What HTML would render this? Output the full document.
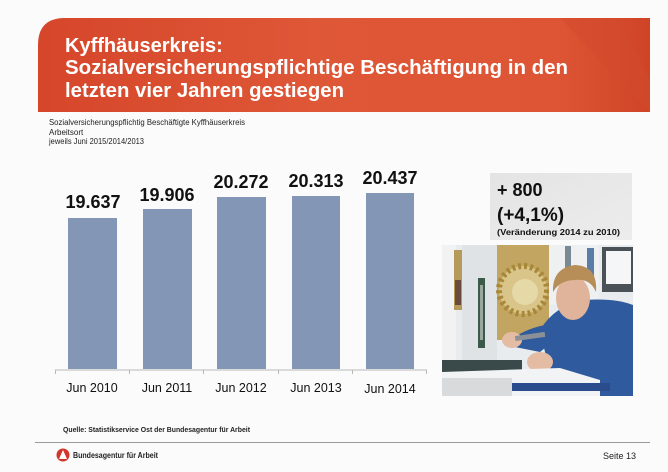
<!DOCTYPE html>
<html><head><meta charset="utf-8"><style>
html,body{margin:0;padding:0;background:#fbfbfb;}
svg{display:block;font-family:"Liberation Sans",Arial,sans-serif;}
</style></head><body>
<svg width="668" height="472" viewBox="0 0 668 472" xmlns="http://www.w3.org/2000/svg">
<defs>
<linearGradient id="ban" x1="0" y1="0" x2="1" y2="0">
<stop offset="0" stop-color="#d6462a"/>
<stop offset="0.45" stop-color="#de5737"/>
<stop offset="0.85" stop-color="#dd5535"/>
<stop offset="1" stop-color="#cf4426"/>
</linearGradient>
<linearGradient id="gbox" x1="0" y1="0" x2="1" y2="1">
<stop offset="0" stop-color="#e4e4e4"/>
<stop offset="1" stop-color="#ececec"/>
</linearGradient>
<clipPath id="ph"><rect x="442" y="245" width="191" height="151"/></clipPath>
</defs>
<rect width="668" height="472" fill="#fbfbfb"/>
<!-- banner -->
<path d="M38,112 L38,45 Q38,18 65,18 L650,18 L650,112 Z" fill="url(#ban)"/>
<path d="M560,18 L620,18 L650,80 L650,112 Z" fill="#d24a2c" opacity="0.5"/>
<g fill="#ffffff" font-weight="bold" font-size="20">
<text x="65" y="52">Kyffhäuserkreis:</text>
<text x="65" y="74" textLength="503" lengthAdjust="spacingAndGlyphs">Sozialversicherungspflichtige Beschäftigung in den</text>
<text x="65" y="97" textLength="279" lengthAdjust="spacingAndGlyphs">letzten vier Jahren gestiegen</text>
</g>
<g fill="#222" font-size="8">
<text x="49" y="125" textLength="196" lengthAdjust="spacingAndGlyphs">Sozialversicherungspflichtig Beschäftigte Kyffhäuserkreis</text>
<text x="49" y="135">Arbeitsort</text>
<text x="49" y="144" textLength="95" lengthAdjust="spacingAndGlyphs">jeweils Juni 2015/2014/2013</text>
</g>
<!-- bars -->
<g fill="#8396b6">
<rect x="68" y="218" width="49" height="151"/>
<rect x="143" y="209" width="49" height="160"/>
<rect x="217" y="197" width="49" height="172"/>
<rect x="292" y="196" width="48" height="173"/>
<rect x="366" y="193" width="48" height="176"/>
</g>
<g stroke="#b8b8b8" stroke-width="1">
<line x1="55" y1="370" x2="427" y2="370"/>
<line x1="55.5" y1="370" x2="55.5" y2="374"/>
<line x1="129.5" y1="370" x2="129.5" y2="374"/>
<line x1="203.5" y1="370" x2="203.5" y2="374"/>
<line x1="278.5" y1="370" x2="278.5" y2="374"/>
<line x1="352.5" y1="370" x2="352.5" y2="374"/>
<line x1="426.5" y1="370" x2="426.5" y2="374"/>
</g>
<g fill="#111" font-weight="bold" font-size="18" text-anchor="middle">
<text x="93" y="208">19.637</text>
<text x="167" y="201">19.906</text>
<text x="241" y="188">20.272</text>
<text x="316" y="187">20.313</text>
<text x="390" y="184">20.437</text>
</g>
<g fill="#111" font-size="12.5" text-anchor="middle">
<text x="92" y="392">Jun 2010</text>
<text x="167" y="392">Jun 2011</text>
<text x="241" y="392">Jun 2012</text>
<text x="316" y="392">Jun 2013</text>
<text x="390" y="393">Jun 2014</text>
</g>
<!-- gray box -->
<rect x="490" y="173" width="142" height="67" fill="url(#gbox)"/>
<g fill="#111" font-weight="bold">
<text x="497" y="196" font-size="18">+ 800</text>
<text x="497" y="221" font-size="19">(+4,1%)</text>
<text x="497" y="235" font-size="8.5" textLength="123" lengthAdjust="spacingAndGlyphs">(Veränderung 2014 zu 2010)</text>
</g>
<!-- photo -->
<g clip-path="url(#ph)">
<rect x="442" y="245" width="191" height="151" fill="#e9ecee"/>
<rect x="442" y="245" width="14" height="151" fill="#f2f2f2"/>
<rect x="454" y="250" width="8" height="60" fill="#b59a5a"/>
<rect x="455" y="280" width="6" height="25" fill="#6a4a3a"/>
<rect x="462" y="245" width="35" height="120" fill="#dfe3e6"/>
<rect x="478" y="278" width="7" height="70" fill="#3c5a4a"/>
<rect x="480" y="285" width="3" height="55" fill="#9aa8a0"/>
<rect x="497" y="245" width="52" height="95" fill="#c2a560"/>
<circle cx="523" cy="290" r="24" fill="#d9c48a"/>
<circle cx="523" cy="290" r="24" fill="none" stroke="#a88838" stroke-width="6" stroke-dasharray="3 3"/>
<circle cx="525" cy="292" r="13" fill="#e6d9a8"/>
<rect x="549" y="245" width="50" height="60" fill="#eef0f2"/>
<rect x="565" y="246" width="6" height="22" fill="#7a8a95"/>
<rect x="587" y="248" width="7" height="30" fill="#5a7da8"/>
<rect x="602" y="247" width="31" height="45" fill="#4a5258"/>
<rect x="606" y="251" width="25" height="33" fill="#f4f6f7"/>
<!-- worker -->
<path d="M540,330 Q555,305 585,300 Q615,298 633,305 L633,396 L555,396 Z" fill="#2f5a9e"/>
<path d="M505,345 Q520,330 545,325 L565,332 L540,352 Z" fill="#2f5a9e"/>
<ellipse cx="573" cy="298" rx="17" ry="22" fill="#e0b49a"/>
<path d="M553,292 Q552,268 575,265 Q598,266 596,292 Q590,278 575,280 Q560,280 553,292 Z" fill="#b88e58"/>
<ellipse cx="512" cy="340" rx="10" ry="8" fill="#e4bca4"/>
<ellipse cx="540" cy="362" rx="13" ry="10" fill="#e4bca4"/>
<rect x="515" y="334" width="30" height="5" fill="#8a9096" transform="rotate(-8 530 336)"/>
<!-- table & paper -->
<rect x="442" y="360" width="80" height="36" fill="#3a4a4a"/>
<path d="M442,372 L560,368 L600,380 L600,396 L442,396 Z" fill="#f2f3f5"/>
<rect x="510" y="383" width="100" height="8" fill="#2a4c8c"/>
<rect x="442" y="378" width="70" height="18" fill="#d8dadc"/>
</g>
<!-- footer -->
<text x="63" y="432" font-size="7.5" font-weight="bold" fill="#222" textLength="187" lengthAdjust="spacingAndGlyphs">Quelle: Statistikservice Ost der Bundesagentur für Arbeit</text>
<line x1="35" y1="442.5" x2="650" y2="442.5" stroke="#9a9a9a" stroke-width="1"/>
<circle cx="63" cy="455" r="6.5" fill="#d2362a"/>
<path d="M59,459 L63,450 L67,459 Z" fill="#fff"/>
<text x="73" y="458" font-size="8" font-weight="bold" fill="#222" textLength="85" lengthAdjust="spacingAndGlyphs">Bundesagentur für Arbeit</text>
<text x="636" y="459" font-size="9" fill="#222" text-anchor="end">Seite 13</text>
</svg>
</body></html>
